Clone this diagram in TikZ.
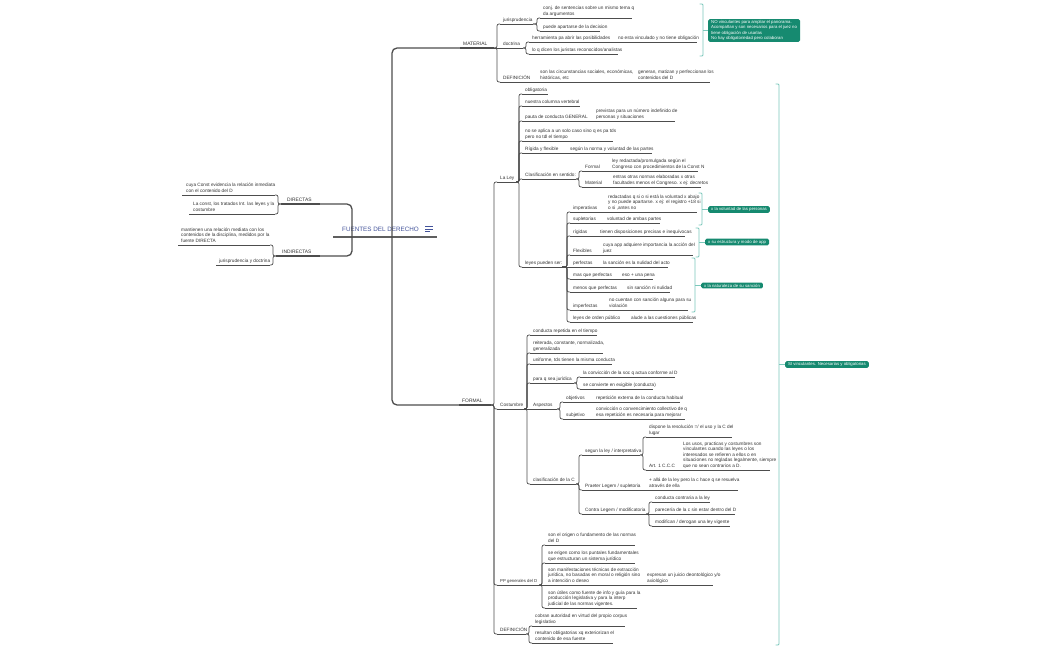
\documentclass[tikz,border=0pt]{standalone}
\usepackage{fontspec}
\setmainfont{Liberation Sans}
\definecolor{txt}{HTML}{333333}
\definecolor{lnc}{HTML}{4D4D4D}
\definecolor{rootc}{HTML}{42529A}
\definecolor{teal}{HTML}{168A70}
\definecolor{brkc}{HTML}{7CC8BB}
\newcommand\tfont{\fontsize{4.7}{5.6}\selectfont}
\newcommand\bfontx{\fontsize{4.9}{5.8}\selectfont}
\newcommand\nfont{\fontsize{4.3}{5.3}\selectfont}
\tikzset{
  topic/.style={anchor=south west,inner xsep=3pt,inner ysep=0.6pt,align=left,font=\tfont,text=txt,execute at end node=\strut},
  bigtopic/.style={topic,font=\bfontx},
  ln/.style={draw=lnc,line width=0.7pt},
  trunk/.style={draw=lnc,line width=1.3pt},
  brk/.style={draw=brkc,line width=0.9pt},
  notebox/.style={fill=teal,text=white,rounded corners=1.5pt,font=\nfont,inner xsep=3pt,inner ysep=1.3pt,align=left}
}
% right-side topic: name, text start, line end, line y, text
\newcommand\T[5]{\node[topic] (#1) at (#2-3,#4) {#5};\coordinate (#1-e) at (#3,#4);\draw[ln] (#1.south west) -- (#1-e);}
\newcommand\TB[5]{\node[bigtopic] (#1) at (#2-3,#4) {#5};\coordinate (#1-e) at (#3,#4);\draw[trunk] (#1.south west) -- (#1-e);}
% left-side topic: name, line start, text start, line end, y, text
\newcommand\TL[6]{\node[topic] (#1) at (#3-3,#5) {#6};\coordinate (#1-w) at (#2,#5);\coordinate (#1-e) at (#4,#5);\draw[ln] (#1-w) -- (#1-e);}
\newcommand\TLB[6]{\node[bigtopic] (#1) at (#3-3,#5) {#6};\coordinate (#1-w) at (#2,#5);\coordinate (#1-e) at (#4,#5);\draw[trunk] (#1-w) -- (#1-e);}
\newcommand\Cn[2]{\draw[ln,rounded corners=2pt] (#1-e) -| ([xshift=-3pt]#2.south west) -- (#2.south west);}
\newcommand\Cs[2]{\draw[ln] (#1-e) -- (#2.south west);}
\newcommand\CL[2]{\draw[ln,rounded corners=2pt] (#1-w) -| ([xshift=3pt]#2-e) -- (#2-e);}
% bracket: name, x, y1, y2, ymid, gap, text
\newcommand\Br[7]{\draw[brk,rounded corners=1pt] (#2-3.5,#3) -- (#2,#3) -- (#2,#4) -- (#2-3.5,#4);
  \node[notebox,anchor=west] (#1) at (#2+#6,#5) {#7};
  \draw[brk] (#2,#5) -- (#1.west);}
\begin{document}
\begin{tikzpicture}[x=1pt,y=-1pt]
\useasboundingbox (0,0) rectangle (1050,650);
\fill[white] (0,0) rectangle (1050,650);
% root
\node[font=\fontsize{6.3}{7}\selectfont,text=rootc,inner sep=0pt,anchor=base west] (root) at (342,231) {FUENTES DEL DERECHO};
\draw[rootc,line width=0.6pt] (425,226.7) -- (433,226.7) (425,229) -- (433,229) (425,231.3) -- (430,231.3);
\coordinate (root-w) at (333,237);
\coordinate (root-e) at (437,237);
\coordinate (cL) at (352,237);
\coordinate (cR) at (392,237);
\draw[draw=lnc!90,line width=2pt] (root-w) -- (root-e);
% ===== MATERIAL =====
\TB{mat}{463}{494}{48}{MATERIAL}
\draw[trunk,rounded corners=5pt] (cR) |- (mat.south west);
\T{jur}{503}{533}{24}{jurisprudencia}
\T{j1}{543}{632}{18}{conj. de sentencias sobre un mismo tema q\\da argumentos}
\T{j2}{543}{600}{31}{puede apartarse de la decision}
\T{doc}{503}{523}{48}{doctrina}
\T{d1}{532}{615}{42}{herramienta pa abrir las posibilidades}
\T{d1a}{618}{697}{42}{no esta vinculado y no tiene obligación}
\T{d2}{532}{618}{54}{lo q dicen los juristas reconocidos/analistas}
\T{def1}{503}{537}{82}{DEFINICIÓN}
\T{def1a}{540}{635}{82}{son las circunstancias sociales, económicas,\\históricas, etc}
\T{def1b}{638}{710}{82}{generan, matizan y perfeccionan los\\contenidos del D}
\Cn{mat}{jur}\Cs{mat}{doc}\Cn{mat}{def1}
\Cn{jur}{j1}\Cn{jur}{j2}
\Cn{doc}{d1}\Cn{doc}{d2}\Cs{d1}{d1a}
\Cs{def1}{def1a}\Cs{def1a}{def1b}
% ===== FORMAL =====
\TB{for}{462}{491}{405}{FORMAL}
\draw[trunk,rounded corners=5pt] (cR) |- (for.south west);
\T{ley}{500}{516}{182}{La Ley}
\T{l1}{525}{548}{94}{obligatoria}
\T{l2}{525}{580}{106}{nuestra columna vertebral}
\T{l3}{525}{593}{121}{pauta de conducta GENERAL}
\T{l3a}{596}{675}{121}{previstas para un número indefinido de\\personas y situaciones}
\T{l4}{525}{613}{141}{no se aplica a un solo caso sino q es pa tds\\pero no tdl el tiempo}
\T{l5}{525}{567}{153}{Rígida y flexible}
\T{l5a}{570}{652}{153}{según la norma y voluntad de las partes}
\T{l6}{525}{576}{179}{Clasificación en sentido:}
\T{l6a}{585}{609}{171}{Formal}
\T{l6a1}{612}{698}{171}{ley redactada/promulgada según el\\Congreso con procedimientos de la Const N}
\T{l6b}{585}{610}{187}{Material}
\T{l6b1}{613}{701}{187}{entras otras normas elaboradas x otras\\facultades menos el Congreso.  x ej: decretos}
\T{l7}{525}{562}{267}{leyes pueden ser:}
\T{p1}{573}{605}{212}{imperativas}
\T{p1a}{608}{697}{212}{redactadas q si o si está la voluntad x abajo\\y no puede apartarse. x ej: el registro +18 si\\o si ,antes no}
\T{p2}{573}{604}{223}{supletorias}
\T{p2a}{607}{660}{223}{voluntad de ambas partes}
\T{p3}{573}{597}{236}{rígidas}
\T{p3a}{600}{685}{236}{tienen disposiciones precisas e inequívocas}
\T{p4}{573}{600}{255}{Flexibles}
\T{p4a}{603}{693}{255}{cuya app adquiere importancia la acción del\\juez}
\T{p5}{573}{600}{267}{perfectas}
\T{p5a}{603}{668}{267}{la sanción es la nulidad del acto}
\T{p6}{573}{619}{279}{mas que perfectas}
\T{p6a}{622}{653}{279}{eso + una pena}
\T{p7}{573}{624}{292}{menos que perfectas}
\T{p7a}{627}{670}{292}{sin sanción ni nulidad}
\T{p8}{573}{606}{310}{imperfectas}
\T{p8a}{609}{688}{310}{no cuentan con sanción alguna para su\\violación}
\T{p9}{573}{628}{322}{leyes de orden público}
\T{p9a}{631}{693}{322}{alude a las cuestiones públicas}
\Cn{for}{ley}
\Cn{ley}{l1}\Cn{ley}{l2}\Cn{ley}{l3}\Cn{ley}{l4}\Cn{ley}{l5}\Cn{ley}{l6}\Cn{ley}{l7}
\Cs{l3}{l3a}\Cs{l5}{l5a}
\Cn{l6}{l6a}\Cn{l6}{l6b}\Cs{l6a}{l6a1}\Cs{l6b}{l6b1}
\Cn{l7}{p1}\Cn{l7}{p2}\Cn{l7}{p3}\Cn{l7}{p4}\Cs{l7}{p5}\Cn{l7}{p6}\Cn{l7}{p7}\Cn{l7}{p8}\Cn{l7}{p9}
\Cs{p1}{p1a}\Cs{p2}{p2a}\Cs{p3}{p3a}\Cs{p4}{p4a}\Cs{p5}{p5a}\Cs{p6}{p6a}\Cs{p7}{p7a}\Cs{p8}{p8a}\Cs{p9}{p9a}
% Costumbre
\T{cos}{500}{524}{409}{Costumbre}
\T{c1}{533}{597}{335}{conducta repetida en el tiempo}
\T{c2}{533}{603}{353}{reiterada, constante, normalizada,\\generalizada}
\T{c3}{533}{612}{364}{uniforme, tds tienen la misma conducta}
\T{c4}{533}{574}{383}{para q sea jurídica}
\T{c4a}{583}{675}{377}{la convicción de la soc q actua conforme al D}
\T{c4b}{583}{653}{389}{se convierte en exigible (conducta)}
\T{c5}{533}{557}{409}{Aspectos}
\T{c5a}{566}{593}{402}{objetivos}
\T{c5a1}{596}{680}{402}{repetición externa de la conducta habitual}
\T{c5b}{566}{593}{419}{subjetivo}
\T{c5b1}{596}{685}{419}{convicción o convencimiento collectivo de q\\esa repetición es necesaria para mejorar}
\T{c6}{533}{576}{484}{clasificación de la C}
\T{c6a}{585}{640}{455}{segun la ley / interpretativa}
\T{c6a1}{649}{732}{437}{dispone la resolución =/ el uso y la C del\\lugar}
\T{c6a2}{649}{680}{470}{Art. 1 C.C.C}
\T{c6a2a}{683}{770}{470}{Los usos, practicas y costumbres son\\vinculantes cuando las leyes o los\\interesados se refieren a ellos o en\\situaciones no regladas legalmente, siempre\\que no sean contrarios a D.}
\T{c6b}{585}{646}{490}{Praeter Legem / supletoria}
\T{c6b1}{649}{738}{490}{+ allá de la ley pero la c hace q se resuelva\\através de ella}
\T{c6c}{585}{646}{514}{Contra Legem / modificatoria}
\T{c6c1}{655}{710}{502}{conducta contraria a la ley}
\T{c6c2}{655}{735}{514}{parecería de la c sin estar dentro del D}
\T{c6c3}{655}{730}{526}{modifican / derogan una ley vigente}
\Cn{for}{cos}
\Cn{cos}{c1}\Cn{cos}{c2}\Cn{cos}{c3}\Cn{cos}{c4}\Cs{cos}{c5}\Cn{cos}{c6}
\Cn{c4}{c4a}\Cn{c4}{c4b}
\Cn{c5}{c5a}\Cn{c5}{c5b}\Cs{c5a}{c5a1}\Cs{c5b}{c5b1}
\Cn{c6}{c6a}\Cn{c6}{c6b}\Cn{c6}{c6c}
\Cn{c6a}{c6a1}\Cn{c6a}{c6a2}\Cs{c6a2}{c6a2a}
\Cs{c6b}{c6b1}
\Cn{c6c}{c6c1}\Cs{c6c}{c6c2}\Cn{c6c}{c6c3}
% PP generales
\node[topic,font=\fontsize{4.3}{5.2}\selectfont] (pp) at (497,585) {PP generales del D};
\coordinate (pp-e) at (539,585);
\draw[ln] (pp.south west) -- (pp-e);
\T{pp1}{548}{635}{545}{son el origen o fundamento de las normas\\del D}
\T{pp2}{548}{635}{563}{se erigen como los puntales fundamentales\\que estructuran un sistema jurídico}
\T{pp3}{548}{644}{585}{son manifestaciones técnicas de extracción\\jurídica, no basadas en moral o religión sino\\a intención o deseo}
\T{pp3a}{647}{713}{585}{expresan un juicio deontológico y/o\\axiológico}
\T{pp4}{548}{637}{608}{son útiles como fuente de info y guía para la\\producción legislativa  y para la interp\\judicial de las normas vigentes.}
\Cn{for}{pp}
\Cn{pp}{pp1}\Cn{pp}{pp2}\Cs{pp}{pp3}\Cn{pp}{pp4}\Cs{pp3}{pp3a}
% DEFINICION formal
\T{def2}{500}{526}{634}{DEFINICIÓN}
\T{df1}{535}{625}{626}{cobran autoridad en virtud del propio corpus\\legislativo}
\T{df2}{535}{613}{643}{resultan obligatorias xq exteriorizan el\\contenido de esa fuente}
\Cn{for}{def2}
\Cn{def2}{df1}\Cn{def2}{df2}
% ===== LEFT =====
\TLB{dir}{281}{287}{320}{204}{DIRECTAS}
\draw[trunk,rounded corners=5pt] (cL) |- (dir-e);
\TL{dl1}{182}{186}{275}{195}{cuya Const evidencia la relación inmediata\\con el contenido del D}
\TL{dl2}{189}{193}{275}{214}{La const, los tratados Int. las leyes y la\\costumbre}
\CL{dir}{dl1}\CL{dir}{dl2}
\TLB{ind}{276}{282}{320}{256}{INDIRECTAS}
\draw[trunk,rounded corners=5pt] (cL) |- (ind-e);
\TL{il1}{178}{181}{270}{245}{mantienen una relación mediata con los\\contenidos de la disciplina, medidos por la\\fuente DIRECTA}
\TL{il2}{216}{219}{270}{265}{jurisprudencia y doctrina}
\CL{ind}{il1}\CL{ind}{il2}
% ===== BRACKETS AND NOTES =====
\Br{n0}{703}{4}{56}{30.5}{5}{NO vinculantes para ampliar el panorama.\\Acompañan y son necesarios para el juez no\\tiene obligación de usarlas\\No hay obligatoriedad pero colaboran}
\Br{n1}{702}{193}{225}{209.5}{6}{x la voluntad de las personas}
\Br{n2}{699}{228}{257}{242}{6}{x su estructura y modo de app}
\Br{n3}{695}{258}{312}{285.5}{6}{x la naturaleza de su sanción}
\Br{n4}{779}{84}{645}{364.5}{6}{SI vinculantes. Necesarias y obligatorias}
\end{tikzpicture}
\end{document}
